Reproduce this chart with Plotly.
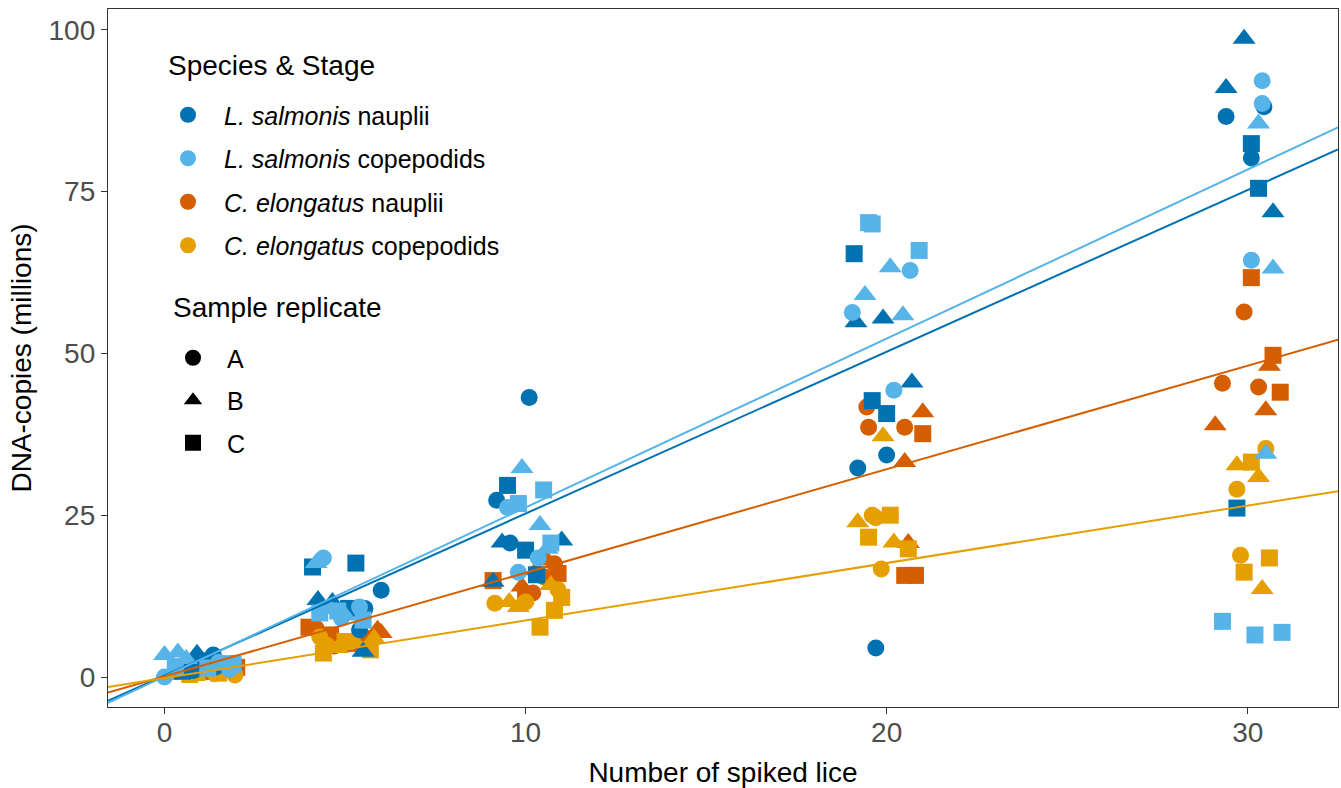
import plotly.graph_objects as go

# ---------------- data ----------------
species_names = ["<i>L. salmonis</i> nauplii", "<i>L. salmonis</i> copepodids",
                 "<i>C. elongatus</i> nauplii", "<i>C. elongatus</i> copepodids"]
species_colors = ["#0072B2", "#56B4E9", "#D55E00", "#E69F00"]
replicate_labels = ["A", "B", "C"]
replicate_symbols = ["circle", "triangle-up", "square"]

# replicate of each point (per spike level: AAA BBB CCC), 5 spike levels (1, 5, 10, 20, 30)
point_replicate = (["A"] * 3 + ["B"] * 3 + ["C"] * 3) * 5

# jittered number of spiked lice (x) and DNA copies in millions (y) per species
ln_x = [1.35, 1.4, 0.8, 0.9, 1.1, 0.6, 1.6, 1.0, 0.5,
        6.0, 5.55, 5.4, 4.25, 4.65, 5.5, 4.1, 5.3, 5.1,
        10.1, 9.2, 9.57, 9.35, 11.0, 9.1, 9.5, 10.0, 10.3,
        20.0, 19.2, 19.7, 19.15, 19.9, 20.7, 19.1, 19.6, 20.0,
        29.4, 30.45, 30.1, 29.9, 29.4, 30.7, 30.1, 30.3, 29.7]
ln_y = [3.4, 1.5, 1.0, 3.6, 1.8, 1.2, 2.0, 2.5, 0.9,
        13.4, 10.6, 7.3, 11.9, 11.6, 3.9, 17.0, 17.6, 10.6,
        43.2, 27.3, 20.7, 20.8, 21.1, 14.7, 29.6, 19.6, 15.8,
        34.3, 32.3, 4.5, 54.8, 55.4, 45.5, 65.4, 42.7, 40.7,
        86.6, 88.1, 80.2, 98.6, 91.0, 71.8, 82.4, 75.5, 26.1]

lc_x = [0.0, 1.5, 1.8, 0.0, 0.37, 0.6, 0.3, 1.2, 1.9,
        4.4, 5.4, 4.9, 4.2, 4.6, 5.0, 4.3, 5.5, 4.8,
        9.5, 10.35, 9.8, 9.9, 10.4, 10.6, 10.5, 9.8, 10.7,
        20.65, 19.05, 20.2, 20.1, 19.4, 20.45, 19.5, 19.6, 20.9,
        30.4, 30.4, 30.1, 30.3, 30.7, 30.5, 29.3, 30.2, 30.95]
lc_y = [0.0, 2.3, 1.2, 3.4, 3.8, 2.8, 1.6, 1.4, 2.0,
        18.4, 10.8, 9.1, 17.6, 10.5, 9.5, 9.9, 8.8, 10.2,
        26.2, 18.4, 16.2, 32.3, 23.5, 19.8, 28.9, 26.8, 20.7,
        62.8, 56.3, 44.3, 63.3, 59.0, 55.9, 70.2, 70.0, 65.9,
        92.1, 88.6, 64.4, 85.5, 63.1, 34.5, 8.6, 6.5, 6.9]

cn_x = [0.8, 1.9, 1.2, 1.5, 1.0, 1.7, 0.4, 1.3, 2.0,
        4.2, 4.7, 5.6, 6.0, 5.9, 4.5, 4.0, 5.2, 4.6,
        10.2, 10.5, 10.8, 9.9, 10.3, 10.6, 9.1, 10.0, 10.9,
        19.45, 19.5, 20.5, 21.0, 20.5, 20.6, 21.0, 20.5, 20.8,
        29.9, 29.3, 30.3, 30.6, 30.5, 29.1, 30.1, 30.7, 30.9]
cn_y = [1.0, 2.1, 0.8, 1.6, 0.5, 1.2, 0.9, 1.8, 1.5,
        7.5, 4.8, 6.0, 6.8, 7.3, 5.5, 7.7, 5.2, 6.5,
        13.0, 15.5, 17.5, 14.0, 16.5, 18.0, 14.9, 12.5, 16.0,
        41.7, 38.6, 38.6, 40.9, 33.2, 20.7, 37.6, 15.7, 15.7,
        56.4, 45.4, 44.8, 48.1, 41.2, 38.9, 61.7, 49.7, 44.0]

cc_x = [1.95, 0.6, 1.4, 1.1, 0.3, 1.7, 0.9, 1.5, 0.7,
        4.3, 4.5, 5.1, 5.3, 5.8, 4.8, 4.4, 5.0, 5.7,
        9.15, 10.0, 10.9, 9.55, 9.8, 10.7, 11.0, 10.8, 10.4,
        19.6, 19.85, 19.7, 19.9, 19.2, 20.2, 20.1, 19.5, 20.6,
        30.5, 29.7, 29.8, 29.7, 30.3, 30.4, 30.1, 30.6, 29.9]
cc_y = [0.3, 0.6, 0.5, 0.9, 0.4, 0.8, 0.7, 0.6, 0.4,
        6.2, 4.9, 5.5, 5.2, 6.0, 4.5, 3.7, 5.5, 4.2,
        11.4, 11.6, 13.5, 11.6, 10.8, 14.2, 12.3, 10.3, 7.7,
        25.0, 16.7, 24.6, 37.2, 23.9, 20.8, 25.0, 21.6, 19.8,
        35.3, 29.0, 18.8, 32.7, 30.9, 13.6, 33.2, 18.4, 16.2]

# linear fits (intercept, slope)
fit_intercept = [0.25, 0.1, 0.1, -0.15]
fit_slope = [2.50, 2.61, 1.60, 0.888]

x_range = [-1.565, 32.5]
y_range = [-4.63, 103.2]
x_ticks = [0, 10, 20, 30]
y_ticks = [0, 25, 50, 75, 100]

# ---------------- figure ----------------
series_x = [ln_x, lc_x, cn_x, cc_x]
series_y = [ln_y, lc_y, cn_y, cc_y]
sym_of = dict(zip(replicate_labels, replicate_symbols))
size_of = {"A": 17, "B": 20, "C": 17}

fig = go.Figure()

draw_order = [2, 3, 0, 1]
for i in draw_order:
    fig.add_trace(go.Scatter(
        x=series_x[i], y=series_y[i], mode="markers",
        marker=dict(color=species_colors[i], opacity=1,
                    symbol=[sym_of[r] for r in point_replicate],
                    size=[size_of[r] for r in point_replicate],
                    line=dict(width=0)),
        showlegend=False, hoverinfo="x+y"))

for i in range(4):
    fx = x_range
    fy = [fit_intercept[i] + fit_slope[i] * v for v in fx]
    fig.add_trace(go.Scatter(x=fx, y=fy, mode="lines",
                             line=dict(color=species_colors[i], width=2),
                             showlegend=False, hoverinfo="skip"))

# legend entries
for i in range(4):
    fig.add_trace(go.Scatter(x=[None], y=[None], mode="markers", name=species_names[i],
                             marker=dict(color=species_colors[i], symbol="circle", size=16),
                             legend="legend", legendgroup="s%d" % i, showlegend=True))
for r, s in zip(replicate_labels, replicate_symbols):
    fig.add_trace(go.Scatter(x=[None], y=[None], mode="markers", name=r,
                             marker=dict(color="black", symbol=s, size=16),
                             legend="legend2", legendgroup="r" + r, showlegend=True))

W, H = 1341, 788
L, R, T, B = 108, 3, 9, 81
pw, ph = W - L - R, H - T - B


def px(xpix):
    return (xpix - L) / pw


def py(ypix):
    return 1 - (ypix - T) / ph


font_family = "Liberation Sans, Arial, sans-serif"
axis_common = dict(showgrid=False, zeroline=False, showline=True, mirror=True,
                   linecolor="#333333", linewidth=1.3, ticks="outside", ticklen=6,
                   tickwidth=1.3, tickcolor="#333333",
                   tickfont=dict(size=28, color="#4D4D4D", family=font_family))

fig.update_layout(
    width=W, height=H,
    margin=dict(l=L, r=R, t=T, b=B, autoexpand=False),
    paper_bgcolor="white", plot_bgcolor="white",
    font=dict(family=font_family, color="black"),
    xaxis=dict(range=x_range, tickvals=x_ticks, ticklabelstandoff=-6, **axis_common,
               title=dict(text="Number of spiked lice", font=dict(size=28, color="black"), standoff=16)),
    yaxis=dict(range=y_range, tickvals=y_ticks, **axis_common,
               title=dict(text="DNA-copies (millions)", font=dict(size=28, color="black"), standoff=8)),
    legend=dict(x=px(152), y=py(92), xanchor="left", yanchor="top",
                bgcolor="rgba(0,0,0,0)", font=dict(size=25, family=font_family),
                tracegroupgap=8, itemsizing="trace", itemwidth=62),
    legend2=dict(x=px(159), y=py(335), xanchor="left", yanchor="top",
                 bgcolor="rgba(0,0,0,0)", font=dict(size=25, family=font_family),
                 tracegroupgap=7, itemsizing="trace", itemwidth=58),
    annotations=[
        dict(text="Species & Stage", xref="paper", yref="paper", x=px(166), y=py(65),
             xanchor="left", yanchor="middle", showarrow=False,
             font=dict(size=28, family=font_family, color="black")),
        dict(text="Sample replicate", xref="paper", yref="paper", x=px(171), y=py(307),
             xanchor="left", yanchor="middle", showarrow=False,
             font=dict(size=28, family=font_family, color="black")),
    ],
)

fig.write_html("out.html", config={"displayModeBar": False},
               post_script="document.body.style.margin='0';document.body.style.overflow='hidden';")
